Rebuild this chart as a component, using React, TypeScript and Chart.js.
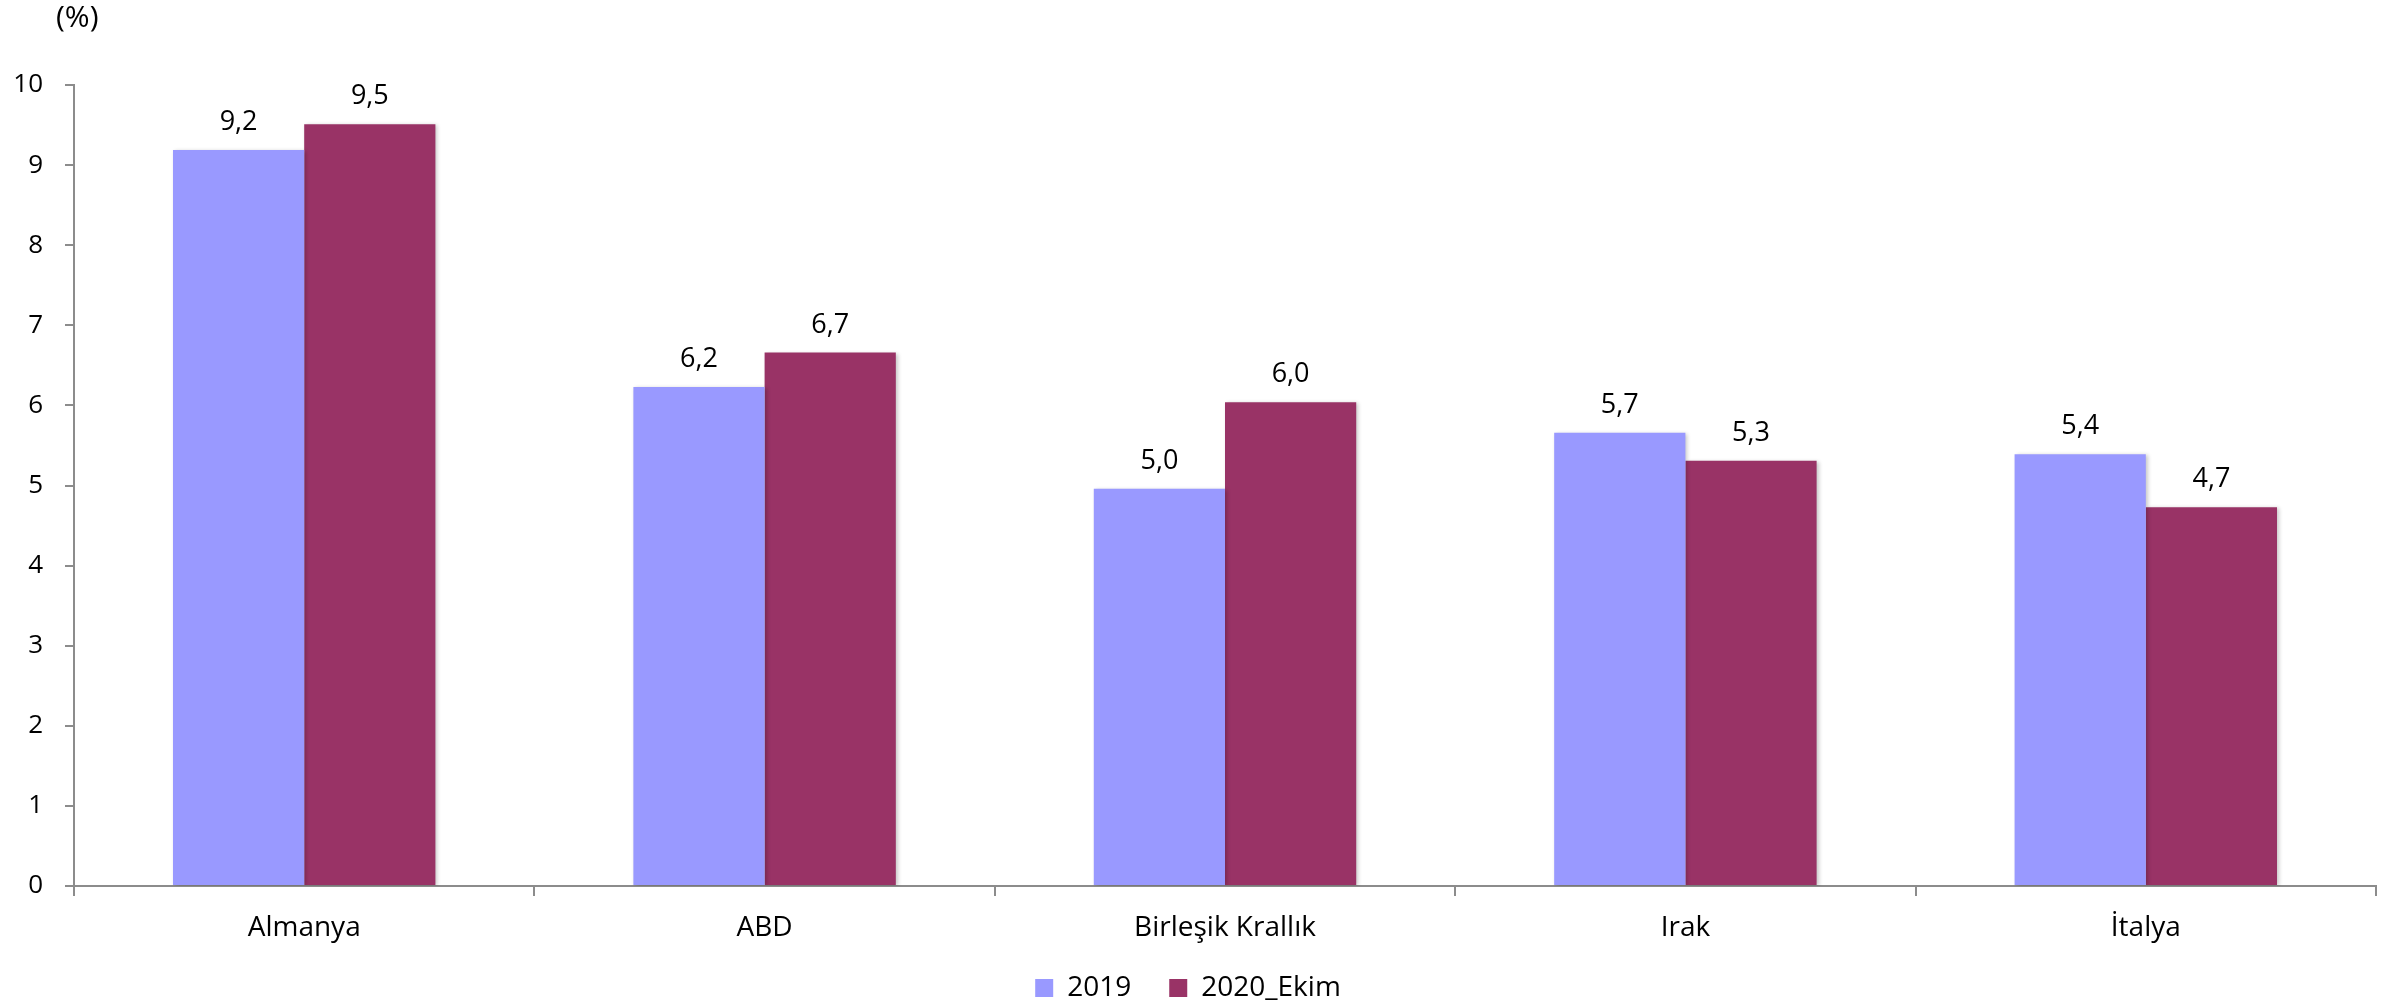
import React, { useEffect, useRef } from "react";
import { Chart, registerables } from "chart.js";

Chart.register(...registerables);

const categories = ["Almanya", "ABD", "Birleşik Krallık", "Irak", "İtalya"];
const series2019 = [9.19, 6.23, 4.96, 5.66, 5.39];
const series2020 = [9.51, 6.66, 6.04, 5.31, 4.73];
const seriesNames = ["2019", "2020_Ekim"];
const seriesColors = ["#9999FF", "#993366"];
const yTicks = [0, 1, 2, 3, 4, 5, 6, 7, 8, 9, 10];
const unitLabel = "(%)";

const FONT = "'Open Sans', 'Noto Sans', sans-serif";
const AXIS_GRAY = "#8c8c8c";

export default function App() {
  const ref = useRef<HTMLCanvasElement | null>(null);

  useEffect(() => {
    const canvas = ref.current;
    if (!canvas) return;

    const extras = {
      id: "extras",
      afterLayout(chart: any) {
        // let the category labels extend below the axis box without being clipped
        const xs = chart.scales.x;
        if (xs) xs.bottom += 24;
      },
      beforeDatasetDraw(chart: any) {
        const ctx = chart.ctx;
        ctx.save();
        ctx.shadowColor = "rgba(0,0,0,0.22)";
        ctx.shadowBlur = 4;
        ctx.shadowOffsetX = 2;
        ctx.shadowOffsetY = 1;
      },
      afterDatasetDraw(chart: any) {
        chart.ctx.restore();
      },
      afterDatasetsDraw(chart: any) {
        const ctx = chart.ctx;
        ctx.save();
        ctx.font = `27px ${FONT}`;
        ctx.fillStyle = "#000";
        ctx.textAlign = "center";
        ctx.textBaseline = "alphabetic";
        chart.data.datasets.forEach((ds: any, di: number) => {
          const meta = chart.getDatasetMeta(di);
          meta.data.forEach((el: any, i: number) => {
            const v = ds.data[i] as number;
            const txt = v.toFixed(1).replace(".", ",");
            ctx.fillText(txt, el.x, el.y - 20);
          });
        });
        ctx.font = `30px ${FONT}`;
        ctx.textAlign = "left";
        ctx.textBaseline = "middle";
        ctx.fillText(unitLabel, 56, 18);
        ctx.restore();
      },
    };

    const chart = new Chart(canvas, {
      type: "bar",
      data: {
        labels: categories,
        datasets: [
          {
            label: seriesNames[0],
            data: series2019,
            backgroundColor: seriesColors[0],
            borderWidth: 0,
            categoryPercentage: 0.57,
            barPercentage: 1,
          },
          {
            label: seriesNames[1],
            data: series2020,
            backgroundColor: seriesColors[1],
            borderWidth: 0,
            categoryPercentage: 0.57,
            barPercentage: 1,
          },
        ],
      },
      options: {
        responsive: false,
        animation: false,
        layout: { padding: { left: 0, right: 14, top: 85, bottom: -6 } },
        plugins: {
          title: { display: false },
          tooltip: { enabled: false },
          legend: {
            display: true,
            position: "bottom",
            labels: {
              boxWidth: 18,
              boxHeight: 18,
              padding: 38,
              color: "#000",
              font: { family: FONT, size: 28 },
            },
          },
        },
        scales: {
          x: {
            grid: {
              display: true,
              drawOnChartArea: false,
              drawTicks: true,
              tickLength: 10,
              color: AXIS_GRAY,
              lineWidth: 2,
              offset: true,
            },
            border: { display: true, color: AXIS_GRAY, width: 2 },
            ticks: {
              color: "#000",
              padding: 15,
              font: { family: FONT, size: 28 },
              maxRotation: 0,
              autoSkip: false,
            },
            afterFit(scale: any) {
              scale.height = 50;
            },
          },
          y: {
            min: 0,
            max: 10,
            afterBuildTicks(scale: any) {
              scale.ticks = yTicks.map((v) => ({ value: v }));
            },
            grid: {
              display: true,
              drawOnChartArea: false,
              drawTicks: true,
              tickLength: 9,
              color: AXIS_GRAY,
              lineWidth: 2,
            },
            border: { display: true, color: AXIS_GRAY, width: 2 },
            ticks: {
              color: "#000",
              padding: 22,
              font: { family: FONT, size: 26 },
            },
            afterFit(scale: any) {
              scale.width = 74;
            },
          },
        },
      },
      plugins: [extras],
    });

    return () => chart.destroy();
  }, []);

  return (
    <div style={{ position: "fixed", left: 0, top: 0, width: 2390, height: 1006, background: "#fff" }}>
      <canvas ref={ref} width={2390} height={1006} style={{ display: "block" }} />
    </div>
  );
}
